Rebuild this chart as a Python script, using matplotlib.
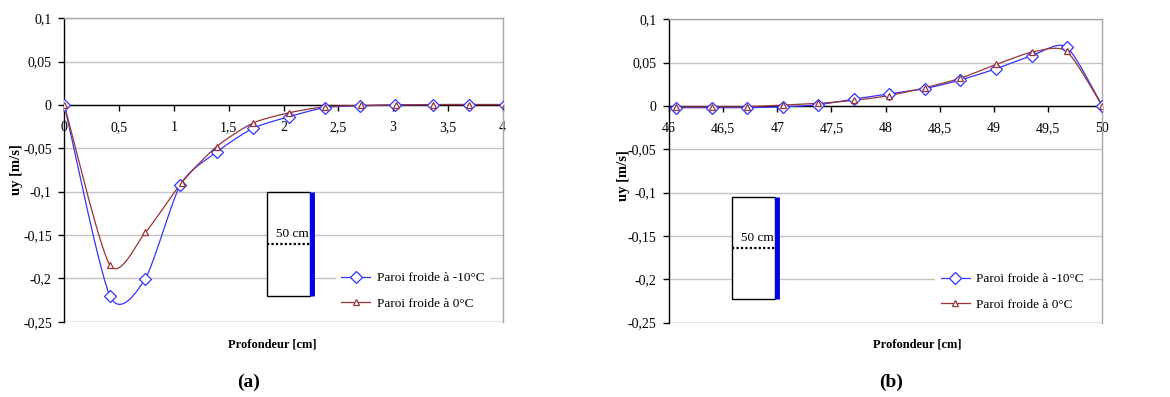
import numpy as np
import matplotlib
matplotlib.use("Agg")
import matplotlib.pyplot as plt
from matplotlib.patches import Rectangle

# ---------------- data ----------------
xa_blue = [0, 0.415, 0.736, 1.06, 1.394, 1.72, 2.05, 2.38, 2.70, 3.02, 3.36, 3.69, 4.02]
ya_blue = [0, -0.220, -0.201, -0.092, -0.054, -0.027, -0.0135, -0.003, -0.001, 0.0, 0.0005, 0.0005, 0.0005]
xa_red = [0, 0.415, 0.74, 1.07, 1.39, 1.72, 2.05, 2.38, 2.71, 3.03, 3.36, 3.69, 4.02]
ya_red = [0, -0.1846, -0.147, -0.0896, -0.048, -0.021, -0.009, -0.002, -0.0005, 0.0, 0.0005, 0.0005, 0.0005]

xb = [46.065, 46.4, 46.72, 47.05, 47.38, 47.71, 48.03, 48.36, 48.69, 49.02, 49.35, 49.67, 50.0]
yb_blue = [-0.002, -0.002, -0.002, -0.001, 0.0015, 0.008, 0.014, 0.020, 0.030, 0.043, 0.058, 0.068, 0.0]
yb_red = [-0.001, -0.001, -0.0008, 0.001, 0.003, 0.0065, 0.012, 0.021, 0.032, 0.048, 0.062, 0.063, 0.0]

series_labels = ["Paroi froide à -10°C", "Paroi froide à 0°C"]
yticks = [-0.25, -0.2, -0.15, -0.1, -0.05, 0, 0.05, 0.1]
xticks_a = [0, 0.5, 1, 1.5, 2, 2.5, 3, 3.5, 4]
xticks_b = [46, 46.5, 47, 47.5, 48, 48.5, 49, 49.5, 50]

BLUE = "#3333ff"
RED = "#993333"
GRID = "#c4c4c4"
plt.rcParams['font.family'] = ['Liberation Serif', 'DejaVu Serif']


def fmt(v):
    s = ("%g" % v).replace(".", ",")
    return "0" if s in ("-0",) else s


def smooth(x, y, k=0.125, n=30):
    """Excel-like smoothed line: cubic Bezier between points."""
    P = np.column_stack([x, y]).astype(float)
    m = len(P)
    out = [P[0:1]]
    t = np.linspace(0, 1, n)[1:, None]
    for i in range(m - 1):
        p0 = P[max(i - 1, 0)]
        p1 = P[i]
        p2 = P[i + 1]
        p3 = P[min(i + 2, m - 1)]
        c1 = p1 + k * (p2 - p0)
        c2 = p2 - k * (p3 - p1)
        seg = ((1 - t) ** 3) * p1 + 3 * ((1 - t) ** 2) * t * c1 + 3 * (1 - t) * t ** 2 * c2 + t ** 3 * p2
        out.append(seg)
    Q = np.vstack(out)
    return Q[:, 0], Q[:, 1]


fig = plt.figure(figsize=(11.7, 3.97), dpi=100)
ax_a = fig.add_axes([0.05496, 0.1897, 0.3747, 0.7642])
ax_b = fig.add_axes([0.5718, 0.1872, 0.3703, 0.7642])


def style_axes(ax, xlim, xticks):
    ax.set_xlim(*xlim)
    ax.set_ylim(-0.25, 0.1)
    ax.set_yticks(yticks)
    ax.set_yticklabels([fmt(v) for v in yticks])
    ax.set_xticks(xticks)
    ax.set_xticklabels([fmt(v) for v in xticks])
    ax.grid(axis='y', color=GRID, linewidth=1.0)
    ax.set_axisbelow(True)
    ax.spines['bottom'].set_position(('data', 0))
    ax.spines['bottom'].set_color('black')
    ax.spines['bottom'].set_linewidth(1.0)
    ax.spines['left'].set_color('black')
    ax.spines['left'].set_linewidth(1.0)
    for s in ('top', 'right'):
        ax.spines[s].set_color('#a8a8a8')
        ax.spines[s].set_linewidth(1.0)
    ax.tick_params(axis='both', direction='out', length=4, width=1, labelsize=10)
    ax.tick_params(axis='y', pad=5)
    ax.tick_params(axis='x', pad=7.5)
    ax.axhline(-0.25, color='#a8a8a8', linewidth=1.0, zorder=1)


def draw_series(ax, x, y, color, marker, ms, label):
    sx, sy = smooth(x, y)
    ax.plot(sx, sy, color=color, linewidth=0.9, zorder=3)
    ax.plot(x, y, linestyle='none', marker=marker, markersize=ms, markerfacecolor='white',
            markeredgecolor=color, markeredgewidth=0.9, zorder=4)
    ax.plot([], [], color=color, linewidth=0.9, marker=marker, markersize=ms,
            markerfacecolor='white', markeredgecolor=color, markeredgewidth=0.9, label=label)


def inset(ax, x0, x1, y0, y1, ydot):
    ax.add_patch(Rectangle((x0, y0), x1 - x0, y1 - y0, transform=ax.transAxes,
                           facecolor='white', edgecolor='black', linewidth=1.0, zorder=5))
    ax.plot([x1 + 0.004, x1 + 0.004], [y0, y1], transform=ax.transAxes, color='#0000ee',
            linewidth=3.5, solid_capstyle='butt', zorder=6)
    ax.plot([x0, x1], [ydot, ydot], transform=ax.transAxes, color='black',
            linestyle=(0, (1, 1)), linewidth=1.6, zorder=6)
    ax.text(x1 - 0.003, ydot + 0.012, "50 cm", transform=ax.transAxes, ha='right', va='bottom',
            fontsize=9.5, zorder=7)


# panel (a)
style_axes(ax_a, (0, 4), xticks_a)
draw_series(ax_a, xa_blue, ya_blue, BLUE, 'D', 6.3, series_labels[0])
draw_series(ax_a, xa_red, ya_red, RED, '^', 5, series_labels[1])
inset(ax_a, 0.462, 0.560, 0.085, 0.4275, 0.256)

# panel (b)
style_axes(ax_b, (46, 50), xticks_b)
draw_series(ax_b, xb, yb_blue, BLUE, 'D', 6.3, series_labels[0])
draw_series(ax_b, xb, yb_red, RED, '^', 5, series_labels[1])
inset(ax_b, 0.146, 0.2446, 0.077, 0.415, 0.247)

for ax, xl in ((ax_a, 0.62), (ax_b, 0.615)):
    leg = ax.legend(loc='lower left', bbox_to_anchor=(xl, 0.022), frameon=True, fancybox=False,
                    edgecolor='none', facecolor='white', framealpha=1.0, fontsize=9.5,
                    handlelength=2.2, handletextpad=0.5, labelspacing=1.0, borderpad=0.4,
                    borderaxespad=0)
    leg.set_zorder(8)

# axis titles and panel labels
fig.text(0.0145, 0.572, "uy [m/s]", rotation=90, ha='center', va='center', fontsize=10.5, fontweight='bold')
fig.text(0.5325, 0.559, "uy [m/s]", rotation=90, ha='center', va='center', fontsize=10.5, fontweight='bold')
fig.text(0.2325, 0.1335, "Profondeur [cm]", ha='center', va='center', fontsize=9, fontweight='bold')
fig.text(0.784, 0.1335, "Profondeur [cm]", ha='center', va='center', fontsize=9, fontweight='bold')
fig.text(0.2125, 0.038, "(a)", ha='center', va='center', fontsize=14, fontweight='bold')
fig.text(0.762, 0.038, "(b)", ha='center', va='center', fontsize=14, fontweight='bold')

fig.savefig("out.png", dpi=100)
